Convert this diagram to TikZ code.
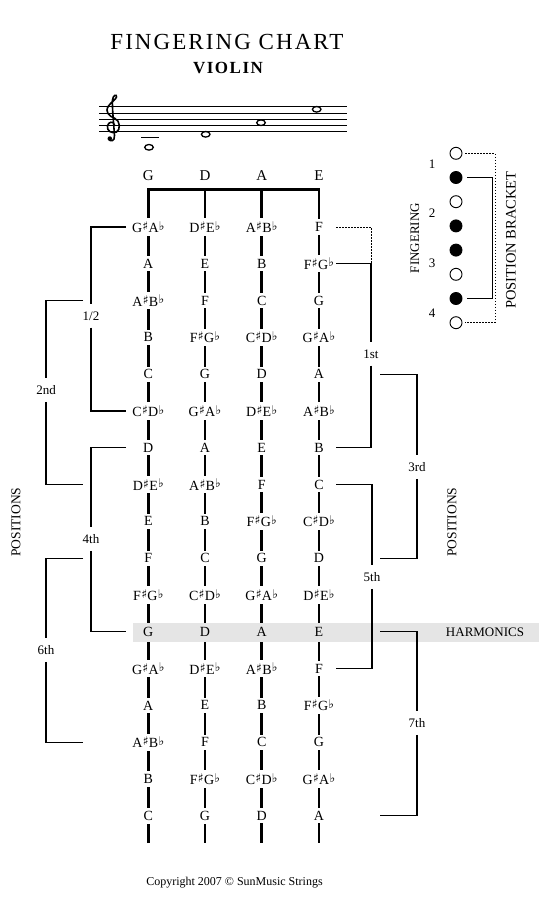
\documentclass[tikz,border=0pt]{standalone}
\usepackage{fontspec}
\setmainfont{Liberation Serif}
\newfontfamily\titlefont[LetterSpace=9]{Liberation Serif}
\newfontfamily\symbfont{DejaVu Sans}
\definecolor{hgray}{gray}{0.9}
\newcommand\shp{\kern0.3pt\raisebox{0.3ex}{\symbfont\fontsize{12}{12}\selectfont ♯}\kern0.3pt}
\newcommand\flt{\kern0.3pt\raisebox{0.35ex}{\symbfont\fontsize{12}{12}\selectfont ♭}}
\newcommand\chrom[1]{\ifcase#1 C\or C\shp D\flt\or D\or D\shp E\flt\or E\or F\or F\shp G\flt\or G\or G\shp A\flt\or A\or A\shp B\flt\or B\fi}
\tikzset{
  string/.style={line width=2.6pt},
  note/.style={inner xsep=1pt, inner ysep=3pt, font=\fontsize{14}{16}\selectfont},
  openstr/.style={font=\fontsize{15}{17}\selectfont},
  bracket/.style={line width=1.1pt},
  poslab/.style={inner sep=7pt, font=\fontsize{13}{15}\selectfont},
  sidelab/.style={rotate=90, font=\fontsize{13.5}{15}\selectfont},
  fingdot/.style={circle, draw, line width=0.9pt, minimum size=12pt, inner sep=0pt},
  wholenote/.style={line width=1.3pt}
}
\begin{document}
\begin{tikzpicture}[x=1pt, y=-1pt, every node/.style={font=\fontsize{13}{15}\selectfont}]
  \useasboundingbox (0,0) rectangle (550,911);

  \node[font=\titlefont\fontsize{23}{25}\selectfont] (title) at (227,41.5) {FINGERING CHART};
  \node[font=\titlefont\bfseries\fontsize{17}{19}\selectfont] (violin) at (228,67.5) {VIOLIN};

  \foreach \k in {0,...,4}
    \draw[line width=0.9pt] (99,{106.7+6.25*\k}) -- (347,{106.7+6.25*\k});
  \draw[line width=1.6pt, line cap=round] (114.5,124.5)
    .. controls (113,121) and (108.5,121.5) .. (107.5,126)
    .. controls (106.5,131) and (112,134) .. (116.5,132)
    .. controls (120.5,130) and (120.5,121) .. (115,118.5)
    .. controls (109,116) and (104.5,112) .. (108.5,106)
    .. controls (111.5,101.5) and (116,99.5) .. (116.5,97)
    .. controls (117,94) and (113,94.5) .. (112.5,100)
    .. controls (112,108) and (114,127) .. (114.5,135.5)
    .. controls (115,141.5) and (110,142) .. (109,139);
  \fill (109.8,138.6) circle (2.3);
  \draw[line width=0.9pt] (141,137.7) -- (159,137.7);
  \draw[wholenote] (149,147.3) ellipse (4.3 and 2.8);
  \draw[wholenote] (205.7,134.3) ellipse (4.3 and 2.8);
  \draw[wholenote] (261,122.7) ellipse (4.3 and 2.8);
  \draw[wholenote] (316.7,109.3) ellipse (4.3 and 2.8);

  \foreach \s/\x in {G/148.3,D/205,A/261.7,E/319} {
    \node[openstr] (o-\s) at (\x,176) {\s};
    \coordinate (top-\s) at (\x,189.3);
    \coordinate (end-\s) at (\x,843);
  }
  \draw[string] (end-G) |- (top-E) -- (end-E);
  \draw[string] (top-D) -- (end-D);
  \draw[string] (top-A) -- (end-A);

  \fill[hgray] (133,622.5) rectangle (539,641.5);
  \node (harm) at (485,632) {HARMONICS};

  \foreach \s/\x/\o in {G/148.3/8,D/205/3,A/261.7/10,E/319/5}
    \foreach \r in {0,...,16} {
      \pgfmathtruncatemacro\k{mod(\o+\r,12)}
      \ifnum\r=11 \def\bg{hgray}\else\def\bg{white}\fi
      \node[note, fill=\bg] (n-\s-\r) at (\x,{227+36.8*\r}) {\chrom{\k}};
    }

  \coordinate (tl) at (126,0);
  \coordinate (tL) at (83,0);
  \coordinate (tr) at (336,0);
  \coordinate (tR) at (380,0);

  \node[poslab] (p-half) at (91,316) {1/2};
  \draw[bracket] (tl |- n-G-0) -| (p-half.north);
  \draw[bracket] (p-half.south) |- (tl |- n-G-5);
  \node[poslab] (p-2nd) at (46,390) {2nd};
  \draw[bracket] (tL |- n-G-2) -| (p-2nd.north);
  \draw[bracket] (p-2nd.south) |- (tL |- n-G-7);
  \node[poslab] (p-4th) at (91,539) {4th};
  \draw[bracket] (tl |- n-G-6) -| (p-4th.north);
  \draw[bracket] (p-4th.south) |- (tl |- n-G-11);
  \node[poslab] (p-6th) at (46,650) {6th};
  \draw[bracket] (tL |- n-G-9) -| (p-6th.north);
  \draw[bracket] (p-6th.south) |- (tL |- n-G-14);

  \node[poslab] (p-1st) at (371,354) {1st};
  \draw[bracket, line width=0.8pt, dash pattern=on 1.5pt off 1.5pt] (tr |- n-E-0) -| (p-1st |- n-E-1);
  \draw[bracket] (tr |- n-E-1) -| (p-1st.north);
  \draw[bracket] (p-1st.south) |- (tr |- n-E-6);
  \node[poslab] (p-3rd) at (417,467) {3rd};
  \draw[bracket] (tR |- n-E-4) -| (p-3rd.north);
  \draw[bracket] (p-3rd.south) |- (tR |- n-E-9);
  \node[poslab] (p-5th) at (372,577) {5th};
  \draw[bracket] (tr |- n-E-7) -| (p-5th.north);
  \draw[bracket] (p-5th.south) |- (tr |- n-E-12);
  \node[poslab] (p-7th) at (417,723) {7th};
  \draw[bracket] (tR |- n-E-11) -| (p-7th.north);
  \draw[bracket] (p-7th.south) |- (tR |- n-E-16);

  \node[sidelab] (pos-l) at (16,522) {POSITIONS};
  \node[sidelab] (pos-r) at (452,522) {POSITIONS};

  \foreach \k/\f in {0/white,1/black,2/white,3/black,4/black,5/white,6/black,7/white}
    \node[fingdot, fill=\f] (c\k) at (456,{153.3+24.2*\k}) {};
  \foreach \d/\y in {1/164,2/212.7,3/263,4/313}
    \node (f\d) at (432,\y) {\d};
  \coordinate (pb) at (492,0);
  \coordinate (pd) at (495,0);
  \draw[line width=0.9pt] ([xshift=5pt]c1.east) -| (pb |- c6.east) -- ([xshift=5pt]c6.east);
  \draw[line width=0.8pt, dash pattern=on 1.5pt off 1.5pt] ([xshift=3pt]c0.east) -| (pd |- c7.east) -- ([xshift=3pt]c7.east);
  \node[rotate=90] (fing) at (415,238) {FINGERING};
  \node[rotate=90, font=\fontsize{14.5}{16}\selectfont] (pbr) at (511,240) {POSITION BRACKET};

  \node[font=\fontsize{12}{14}\selectfont] (copy) at (234.5,883) {Copyright 2007 © SunMusic Strings};
\end{tikzpicture}
\end{document}
